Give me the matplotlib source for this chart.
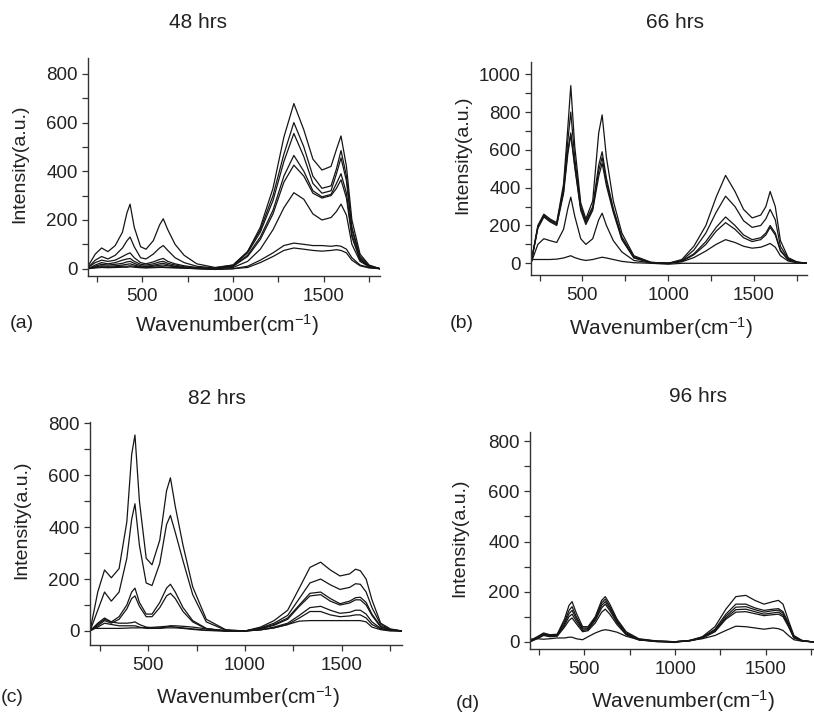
import matplotlib
matplotlib.use("Agg")
import matplotlib.pyplot as plt
from matplotlib.ticker import MultipleLocator


wn = [200, 240, 275, 310, 350, 390, 415, 432, 455, 490, 520, 560, 595, 615, 640, 680, 730, 800,
      900, 1000, 1080, 1150, 1220, 1280, 1335, 1390, 1440, 1490, 1540, 1570, 1595, 1625, 1655,
      1700, 1750, 1810]

# (a) 48 hrs
a1 = [10, 60, 85, 70, 95, 150, 230, 265, 170, 90, 80, 115, 180, 205, 160, 100, 55, 20,
      5, 15, 70, 170, 330, 540, 678, 570, 450, 405, 420, 490, 545, 420, 200, 60, 15, 0]
a2 = [5, 35, 50, 40, 55, 85, 115, 130, 90, 45, 40, 60, 85, 95, 75, 45, 25, 10,
      3, 15, 70, 160, 300, 470, 600, 500, 380, 330, 340, 410, 485, 380, 170, 50, 12, 0]
a3 = [5, 25, 35, 30, 35, 50, 60, 65, 45, 25, 20, 28, 38, 42, 30, 20, 12, 5,
      0, 12, 65, 150, 280, 440, 555, 460, 350, 310, 320, 390, 455, 360, 160, 45, 10, 0]
a4 = [0, 15, 25, 20, 25, 35, 40, 42, 30, 18, 15, 20, 28, 30, 22, 15, 8, 3,
      0, 10, 55, 130, 240, 380, 465, 400, 320, 295, 305, 350, 390, 310, 140, 40, 10, 0]
a5 = [0, 10, 18, 15, 18, 22, 28, 30, 22, 12, 10, 14, 20, 22, 16, 10, 5, 2,
      0, 10, 50, 120, 225, 355, 425, 380, 310, 290, 300, 330, 365, 290, 130, 35, 8, 0]
a6 = [0, 8, 12, 10, 12, 15, 18, 20, 15, 8, 8, 10, 14, 15, 12, 8, 5, 2,
      0, 5, 30, 80, 160, 250, 312, 285, 225, 200, 210, 235, 265, 220, 100, 30, 8, 0]
a7 = [0, 5, 8, 6, 8, 10, 10, 12, 10, 6, 5, 6, 8, 8, 6, 5, 3, 0,
      -3, 0, 10, 35, 65, 95, 105, 100, 95, 95, 92, 95, 92, 80, 45, 15, 5, 0]
a8 = [0, 3, 5, 4, 5, 6, 6, 8, 6, 4, 3, 4, 5, 5, 4, 3, 2, 0,
      -3, 0, 5, 25, 50, 75, 85, 80, 75, 72, 75, 78, 75, 65, 35, 12, 3, 0]

# (b) 66 hrs
b1 = [0, 200, 260, 235, 215, 420, 720, 940, 620, 320, 235, 330, 690, 785, 560, 330, 160, 40,
      5, 0, 20, 90, 200, 350, 465, 380, 285, 240, 255, 300, 380, 300, 120, 30, 8, 0]
b2 = [0, 195, 255, 230, 210, 400, 650, 800, 560, 300, 225, 300, 520, 590, 450, 290, 140, 35,
      5, 0, 15, 70, 160, 270, 355, 300, 225, 190, 200, 235, 285, 230, 90, 25, 5, 0]
b3 = [0, 190, 250, 225, 205, 380, 600, 690, 520, 290, 215, 290, 490, 560, 430, 280, 130, 30,
      3, 0, 12, 50, 115, 190, 245, 200, 150, 125, 135, 160, 200, 160, 70, 20, 5, 0]
b4 = [0, 185, 245, 220, 200, 370, 580, 680, 510, 280, 205, 280, 460, 530, 410, 270, 125, 28,
      3, 0, 10, 45, 100, 170, 215, 180, 135, 115, 125, 150, 190, 150, 65, 18, 5, 0]
b5 = [0, 100, 130, 120, 110, 180, 290, 350, 250, 130, 100, 130, 230, 265, 200, 120, 60, 15,
      2, 0, 8, 30, 65, 100, 125, 110, 90, 80, 85, 95, 105, 85, 40, 12, 3, 0]
b6 = [20, 20, 20, 20, 22, 28, 35, 40, 30, 20, 15, 20, 28, 32, 28, 20, 10, 3,
      0, -5, 0, 0, 0, 0, 0, 0, 0, 0, 0, 0, 0, 0, 0, 0, 0, 0]

# (c) 82 hrs
c1 = [0, 150, 235, 205, 240, 420, 680, 755, 500, 280, 255, 350, 540, 590, 480, 330, 170, 45,
      5, 0, 15, 40, 80, 165, 245, 265, 235, 212, 220, 238, 232, 200, 120, 30, 8, 0]
c2 = [0, 80, 150, 115, 150, 280, 430, 490, 330, 185, 175, 260, 410, 445, 380, 270, 140, 35,
      3, 0, 12, 30, 60, 125, 185, 200, 178, 160, 168, 182, 180, 150, 90, 25, 5, 0]
c3 = [0, 25, 45, 35, 55, 100, 150, 165, 110, 65, 65, 110, 165, 180, 150, 90, 40, 10,
      0, 0, 10, 25, 50, 100, 145, 150, 125, 105, 115, 128, 130, 110, 65, 18, 5, 0]
c4 = [0, 20, 40, 30, 45, 85, 125, 135, 95, 55, 55, 90, 135, 145, 125, 75, 35, 8,
      0, 0, 8, 22, 45, 95, 135, 140, 115, 100, 108, 120, 120, 100, 60, 15, 5, 0]
c5 = [0, 30, 50, 35, 30, 30, 32, 35, 25, 15, 12, 12, 15, 18, 15, 12, 8, 3,
      0, 0, 5, 15, 30, 60, 90, 95, 80, 68, 72, 80, 80, 65, 35, 10, 3, 0]
c6 = [0, 15, 30, 25, 20, 20, 20, 20, 15, 10, 10, 10, 12, 12, 12, 10, 6, 2,
      0, 0, 4, 12, 25, 50, 75, 75, 62, 55, 58, 62, 62, 50, 25, 8, 2, 0]
c7 = [10, 10, 10, 10, 10, 11, 12, 12, 12, 13, 14, 16, 18, 20, 20, 18, 15, 8,
      2, 0, 5, 12, 25, 38, 40, 40, 40, 40, 40, 40, 40, 35, 15, 5, 0, 0]

# (d) 96 hrs
d1 = [5, 20, 35, 28, 30, 90, 145, 160, 115, 60, 60, 100, 165, 180, 150, 90, 40, 12,
      3, 0, 5, 20, 60, 130, 180, 185, 165, 150, 160, 165, 150, 85, 25, 5, 0, 0]
d2 = [0, 18, 32, 25, 28, 80, 125, 140, 100, 55, 55, 95, 155, 170, 140, 85, 35, 10,
      2, 0, 5, 18, 50, 110, 150, 150, 135, 125, 130, 132, 120, 75, 20, 5, 0, 0]
d3 = [0, 16, 30, 24, 26, 72, 112, 125, 92, 50, 52, 90, 145, 160, 132, 80, 32, 9,
      2, 0, 4, 16, 46, 102, 138, 140, 128, 118, 124, 126, 114, 70, 18, 4, 0, 0]
d4 = [0, 14, 28, 22, 24, 65, 100, 110, 82, 45, 48, 85, 135, 150, 124, 75, 30, 8,
      2, 0, 4, 15, 42, 95, 128, 130, 120, 110, 115, 118, 106, 65, 16, 4, 0, 0]
d5 = [0, 12, 25, 20, 22, 58, 85, 95, 72, 40, 44, 75, 118, 130, 110, 68, 28, 7,
      1, 0, 3, 14, 40, 90, 118, 120, 112, 104, 108, 110, 100, 60, 15, 4, 0, 0]
d6 = [10, 12, 10, 12, 15, 15, 18, 18, 12, 8, 20, 35, 45, 48, 45, 38, 22, 8,
      0, -3, 5, 12, 25, 45, 62, 60, 55, 50, 55, 52, 45, 25, 8, 2, 0, 0]

titles = ["48 hrs", "66 hrs", "82 hrs", "96 hrs"]
tags = ["(a)", "(b)", "(c)", "(d)"]
spectra = [[a1, a2, a3, a4, a5, a6, a7, a8],
           [b1, b2, b3, b4, b5, b6],
           [c1, c2, c3, c4, c5, c6, c7],
           [d1, d2, d3, d4, d5, d6]]
ylims = [(-30, 865), (-62, 1065), (-54, 805), (-29, 837)]


plt.rcParams['font.family'] = ['Liberation Sans', 'DejaVu Sans']
plt.rcParams['mathtext.fontset'] = 'custom'
plt.rcParams['mathtext.rm'] = 'Liberation Sans'
plt.rcParams['mathtext.default'] = 'regular'

W, H = 814, 715
fig = plt.figure(figsize=(W / 100, H / 100), dpi=100)


def px_axes(left, top, right, bottom):
    # pixel box (y from the top) -> figure fraction
    return fig.add_axes([left / W, 1 - bottom / H, (right - left) / W, (bottom - top) / H])


def px_text(x, y, s, **kw):
    fig.text(x / W, 1 - y / H, s, ha='center', va='center', **kw)


boxes = [(88, 58, 380, 276), (531, 62, 807, 275), (90, 422, 402, 645), (530, 432, 822, 649)]
title_pos = [(198, 22), (675, 22), (217, 398), (698, 397)]
xlabel_pos = [(227, 325), (661, 328), (248, 697), (683, 701)]
ylabel_pos = [(20, 164), (463, 155), (22, 520), (460, 538)]
tag_pos = [(22, 323), (462, 323), (12, 697), (468, 703)]

for i in range(4):
    ax = px_axes(*boxes[i])
    for y in spectra[i]:
        ax.plot(wn, y, color='#151515', lw=0.9)
    ax.set_xlim(200, 1810)
    ax.set_ylim(*ylims[i])
    ax.xaxis.set_major_locator(MultipleLocator(500))
    ax.xaxis.set_minor_locator(MultipleLocator(250))
    ax.yaxis.set_major_locator(MultipleLocator(200))
    ax.yaxis.set_minor_locator(MultipleLocator(100))
    ax.tick_params(which='both', direction='out', length=4, width=0.9, colors='#333333',
                   labelsize=13.5, labelcolor='#222222')
    ax.tick_params(axis='x', pad=5)
    ax.spines['top'].set_visible(False)
    ax.spines['right'].set_visible(False)
    for s in ['left', 'bottom']:
        ax.spines[s].set_color('#333333')
        ax.spines[s].set_linewidth(1.0)

    px_text(*title_pos[i], titles[i], fontsize=15, color='#222222')
    px_text(*xlabel_pos[i], 'Wavenumber(cm$^{-1}$)', fontsize=15, color='#222222')
    px_text(*ylabel_pos[i], 'Intensity(a.u.)', fontsize=14, rotation=90, color='#222222')
    px_text(*tag_pos[i], tags[i], fontsize=14, color='#222222')

fig.savefig("out.png", dpi=100)
